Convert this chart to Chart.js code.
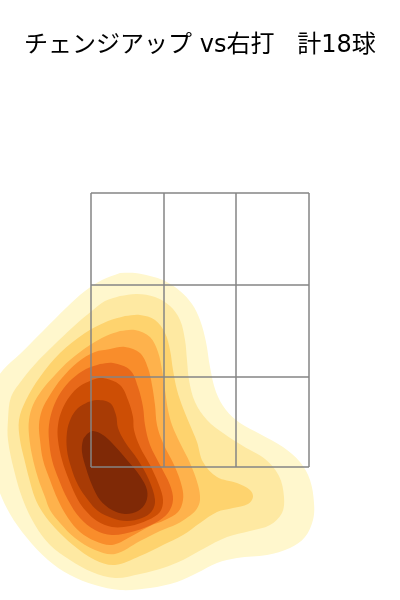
<!DOCTYPE html>
<html lang="ja">
<head>
<meta charset="utf-8">
<script src="https://cdn.jsdelivr.net/npm/chart.js@4.4.1/dist/chart.umd.min.js"></script>
<style>
  html, body { margin: 0; padding: 0; background: #fff; }
  #wrap { position: relative; width: 400px; height: 600px; }
  #title {
    position: absolute; left: 0; top: 29px; width: 400px;
    text-align: center; white-space: pre;
    font-family: "DejaVu Sans", "Noto Sans CJK JP", sans-serif; font-size: 24px; line-height: 30px; color: #000;
  }
  canvas { position: absolute; left: 0; top: 0; }
</style>
</head>
<body>
<div id="wrap">
  <canvas id="chart" width="400" height="600"></canvas>
  <div id="title">チェンジアップ vs右打   計18球</div>
</div>
<script>
// strike zone (3x3), plate x / height z
const zoneX = [-1.09, -0.36, 0.36, 1.09];
const zoneZ = [1.33, 2.23, 3.15, 4.07];

// density contours, outer (lowest) -> inner (highest), [x, z]
const contour1 = [
    [-0.80, 3.27], [-0.65, 3.27], [-0.50, 3.24], [-0.35, 3.19], [-0.20, 3.09], [-0.08, 2.96],
    [0.00, 2.80], [0.06, 2.58], [0.10, 2.33], [0.16, 2.08], [0.26, 1.90], [0.40, 1.77],
    [0.60, 1.66], [0.83, 1.53], [1.00, 1.38], [1.10, 1.20], [1.14, 0.97], [1.13, 0.80],
    [1.05, 0.63], [0.90, 0.52], [0.67, 0.45], [0.37, 0.42], [0.17, 0.37], [-0.03, 0.27],
    [-0.23, 0.18], [-0.50, 0.12], [-0.80, 0.10], [-1.05, 0.15], [-1.30, 0.25], [-1.52, 0.40],
    [-1.73, 0.62], [-1.90, 0.86], [-2.02, 1.12], [-2.12, 1.45], [-2.15, 1.80], [-2.08, 2.12],
    [-1.97, 2.30], [-1.80, 2.46], [-1.57, 2.69], [-1.33, 2.93], [-1.15, 3.09], [-0.98, 3.20],
];
const contour2 = [
    [-0.80, 3.04], [-0.63, 3.06], [-0.45, 3.03], [-0.30, 2.94], [-0.20, 2.80], [-0.15, 2.60],
    [-0.13, 2.40], [-0.11, 2.20], [-0.05, 1.98], [0.07, 1.80], [0.23, 1.67], [0.43, 1.54],
    [0.65, 1.41], [0.79, 1.24], [0.84, 1.03], [0.82, 0.87], [0.70, 0.75], [0.50, 0.69],
    [0.27, 0.63], [0.03, 0.51], [-0.17, 0.40], [-0.37, 0.32], [-0.60, 0.26], [-0.85, 0.22],
    [-1.08, 0.28], [-1.30, 0.40], [-1.50, 0.55], [-1.65, 0.75], [-1.77, 1.00], [-1.86, 1.30],
    [-1.92, 1.60], [-1.92, 1.80], [-1.89, 2.03], [-1.78, 2.20], [-1.63, 2.38], [-1.47, 2.54],
    [-1.27, 2.73], [-1.07, 2.90], [-0.95, 2.99],
];
const contour3 = [
    [-0.75, 2.84], [-0.60, 2.85], [-0.45, 2.80], [-0.35, 2.67], [-0.30, 2.50], [-0.27, 2.30],
    [-0.23, 2.10], [-0.17, 1.92], [-0.10, 1.75], [-0.03, 1.58], [0.03, 1.38], [0.17, 1.23],
    [0.37, 1.17], [0.50, 1.10], [0.53, 1.03], [0.48, 0.96], [0.33, 0.92], [0.17, 0.88],
    [0.00, 0.77], [-0.17, 0.65], [-0.37, 0.55], [-0.60, 0.44], [-0.85, 0.35], [-1.05, 0.40],
    [-1.27, 0.55], [-1.45, 0.72], [-1.57, 0.87], [-1.65, 1.02], [-1.71, 1.22], [-1.76, 1.42],
    [-1.80, 1.60], [-1.81, 1.80], [-1.74, 2.00], [-1.60, 2.23], [-1.40, 2.47], [-1.15, 2.67],
    [-0.92, 2.79],
];
const contour4 = [
    [-0.80, 2.69], [-0.65, 2.70], [-0.50, 2.63], [-0.42, 2.48], [-0.38, 2.30], [-0.35, 2.10],
    [-0.32, 1.90], [-0.28, 1.75], [-0.20, 1.57], [-0.10, 1.37], [-0.02, 1.15], [0.00, 1.00],
    [-0.04, 0.90], [-0.12, 0.83], [-0.23, 0.76], [-0.40, 0.69], [-0.60, 0.59], [-0.85, 0.46],
    [-1.05, 0.50], [-1.25, 0.62], [-1.40, 0.77], [-1.50, 0.90], [-1.55, 1.03], [-1.62, 1.22],
    [-1.68, 1.45], [-1.71, 1.65], [-1.71, 1.80], [-1.67, 1.95], [-1.58, 2.10], [-1.45, 2.25],
    [-1.30, 2.40], [-1.10, 2.55], [-0.94, 2.64],
];
const contour5 = [
    [-0.90, 2.51], [-0.75, 2.53], [-0.60, 2.47], [-0.52, 2.32], [-0.48, 2.15], [-0.45, 1.95],
    [-0.43, 1.75], [-0.37, 1.57], [-0.25, 1.33], [-0.18, 1.13], [-0.17, 1.00], [-0.22, 0.88],
    [-0.35, 0.80], [-0.50, 0.74], [-0.70, 0.63], [-0.88, 0.55], [-1.05, 0.59], [-1.20, 0.68],
    [-1.32, 0.82], [-1.42, 1.00], [-1.50, 1.20], [-1.57, 1.40], [-1.60, 1.60], [-1.61, 1.75],
    [-1.58, 1.90], [-1.50, 2.05], [-1.38, 2.22], [-1.22, 2.38], [-1.05, 2.48],
];
const contour6 = [
    [-1.00, 2.36], [-0.87, 2.37], [-0.70, 2.30], [-0.62, 2.13], [-0.57, 1.93], [-0.55, 1.75],
    [-0.50, 1.55], [-0.40, 1.35], [-0.30, 1.15], [-0.27, 1.00], [-0.32, 0.87], [-0.45, 0.77],
    [-0.65, 0.69], [-0.88, 0.65], [-1.05, 0.70], [-1.20, 0.82], [-1.32, 1.00], [-1.41, 1.20],
    [-1.48, 1.40], [-1.51, 1.60], [-1.51, 1.75], [-1.47, 1.92], [-1.39, 2.08], [-1.28, 2.21],
    [-1.14, 2.31],
];
const contour7 = [
    [-1.08, 2.20], [-0.97, 2.22], [-0.80, 2.15], [-0.72, 2.00], [-0.67, 1.83], [-0.66, 1.70],
    [-0.60, 1.53], [-0.50, 1.35], [-0.41, 1.15], [-0.37, 1.00], [-0.40, 0.88], [-0.52, 0.80],
    [-0.70, 0.74], [-0.88, 0.73], [-1.03, 0.79], [-1.14, 0.89], [-1.22, 1.00], [-1.31, 1.20],
    [-1.38, 1.40], [-1.42, 1.60], [-1.42, 1.75], [-1.38, 1.90], [-1.30, 2.04], [-1.20, 2.14],
];
const contour8 = [
    [-1.12, 1.98], [-1.03, 2.00], [-0.90, 1.97], [-0.84, 1.85], [-0.82, 1.72], [-0.75, 1.58],
    [-0.62, 1.40], [-0.51, 1.20], [-0.45, 1.00], [-0.48, 0.89], [-0.58, 0.82], [-0.73, 0.79],
    [-0.88, 0.82], [-1.02, 0.89], [-1.12, 1.00], [-1.22, 1.15], [-1.29, 1.33], [-1.33, 1.50],
    [-1.33, 1.68], [-1.29, 1.82], [-1.22, 1.92],
];
const contour9 = [
    [-1.13, 1.66], [-1.07, 1.69], [-0.97, 1.65], [-0.88, 1.57], [-0.73, 1.40], [-0.60, 1.24],
    [-0.53, 1.10], [-0.54, 0.98], [-0.62, 0.89], [-0.75, 0.86], [-0.88, 0.90], [-1.00, 1.00],
    [-1.08, 1.15], [-1.14, 1.32], [-1.18, 1.48], [-1.17, 1.60],
];

const contours = [contour1, contour2, contour3, contour4, contour5, contour6, contour7, contour8, contour9];
const levelColors = [
    '#fff7cd', '#fee9a2', '#fed36e', '#feb24c', '#f98d2b',
    '#e8691a', '#cd4e05', '#a83b05', '#7f2906',
];

const datasets = [];

// filled bands, outer first (drawn underneath)
contours.forEach((pts, i) => {
    datasets.push({
        data: [...pts, pts[0]].map(([x, y]) => ({ x, y })),
        showLine: true,
        fill: 'shape',
        backgroundColor: levelColors[i],
        borderColor: levelColors[i],
        borderWidth: 0,
        pointRadius: 0,
        tension: 0.35,
        order: 20 - i,
    });
});

// zone grid on top
const zoneLine = data => ({
    data,
    showLine: true,
    fill: false,
    borderColor: '#858585',
    borderWidth: 1.5,
    pointRadius: 0,
    tension: 0,
    order: 0,
});
for (const x of zoneX) datasets.push(zoneLine([{ x, y: zoneZ[0] }, { x, y: zoneZ[3] }]));
for (const y of zoneZ) datasets.push(zoneLine([{ x: zoneX[0], y }, { x: zoneX[3], y }]));

new Chart(document.getElementById('chart'), {
    type: 'scatter',
    data: { datasets },
    options: {
        responsive: false,
        animation: false,
        devicePixelRatio: 1,
        events: [],
        layout: { padding: 0 },
        plugins: {
            legend: { display: false },
            tooltip: { enabled: false },
            title: { display: false },
        },
        scales: {
            x: { type: 'linear', min: -2, max: 2, display: false },
            y: { type: 'linear', min: 0, max: 6, display: false },
        },
    },
});
</script>
</body>
</html>
